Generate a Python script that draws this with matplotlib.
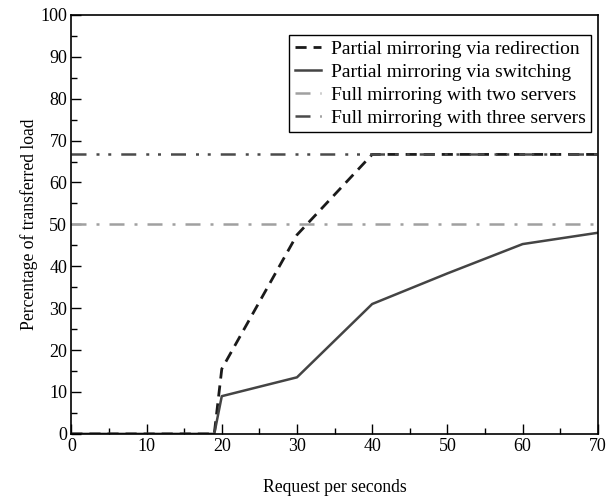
import matplotlib
matplotlib.use("Agg")
import matplotlib.pyplot as plt
from matplotlib.ticker import MultipleLocator

plt.rcParams['font.family'] = ['Liberation Serif', 'DejaVu Serif']

x_redir = [0, 19, 20, 30, 40, 70]
y_redir = [0, 0, 15.5, 47.5, 66.7, 66.7]
x_switch = [0, 19, 20, 30, 40, 50, 60, 70]
y_switch = [0, 0, 9, 13.5, 31, 38.3, 45.3, 48]
full_two = 50.0
full_three = 66.7
labels = ["Partial mirroring via redirection", "Partial mirroring via switching",
          "Full mirroring with two servers", "Full mirroring with three servers"]

fig = plt.figure(figsize=(6.1, 4.97), dpi=100)
ax = fig.add_axes([0.117, 0.127, 0.863, 0.843])

ax.plot(x_redir, y_redir, color='#1a1a1a', lw=2.0, linestyle=(0, (4, 2.5)), label=labels[0])
ax.plot(x_switch, y_switch, color='#444444', lw=1.8, linestyle='-', label=labels[1])
ax.axhline(full_two, color='#a0a0a0', lw=1.8, linestyle=(0, (6, 4, 1.2, 4)), label=labels[2])
ax.axhline(full_three, color='#4a4a4a', lw=1.8, linestyle=(0, (6, 4, 1.2, 3.5, 1.2, 4)), label=labels[3])

ax.set_xlim(0, 70)
ax.set_ylim(0, 100)
ax.xaxis.set_major_locator(MultipleLocator(10))
ax.xaxis.set_minor_locator(MultipleLocator(5))
ax.yaxis.set_major_locator(MultipleLocator(10))
ax.yaxis.set_minor_locator(MultipleLocator(5))
ax.tick_params(which='both', direction='in', top=False, right=False, labelsize=13)
ax.tick_params(which='major', length=7, width=1, pad=3)
ax.tick_params(which='minor', length=4, width=1)
for s in ax.spines.values():
    s.set_linewidth(1.2)

ax.set_xlabel("Request per seconds", fontsize=12.7, labelpad=17)
ax.set_ylabel("Percentage of transferred load", fontsize=12.7, labelpad=2)

leg = ax.legend(loc='upper right', bbox_to_anchor=(0.988, 0.953), fontsize=14,
                frameon=True, fancybox=False, edgecolor='black', handlelength=1.35,
                handletextpad=0.5, borderpad=0.3, labelspacing=0.27, framealpha=1,
                borderaxespad=0)
leg.get_frame().set_linewidth(1.0)

fig.savefig("out.png", dpi=100)
